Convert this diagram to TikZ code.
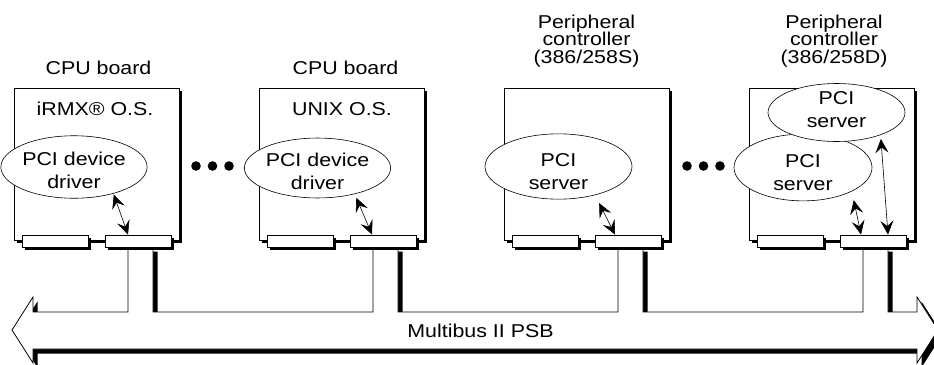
\documentclass[tikz,border=0pt]{standalone}
\usepackage{fontspec}
\setmainfont{Liberation Sans}[FakeStretch=1.15]
\usetikzlibrary{arrows.meta,shapes.geometric,shadows}
\newcommand{\mystrut}[1]{\rule{0pt}{#1pt}}
\tikzset{
  lab/.style={font=\fontsize{18.6}{17.7}\selectfont, align=center, inner sep=0pt},
  board/.style={draw, line width=0.8pt, fill=white, minimum width=165pt, minimum height=152pt, inner sep=0pt,
    drop shadow={shadow xshift=2.5pt, shadow yshift=-2.5pt, opacity=1, fill=black}},
  conn/.style={draw, line width=0.8pt, fill=white, minimum width=66pt, minimum height=12pt, inner sep=0pt,
    drop shadow={shadow xshift=2.5pt, shadow yshift=-2.5pt, opacity=1, fill=black}},
  proc/.style={ellipse, draw, line width=0.6pt, fill=white, inner sep=0pt, align=center,
    font=\fontsize{18.6}{23}\selectfont},
  link/.style={line width=0.6pt, {Stealth[length=14pt,width=13pt,inset=5.5pt]}-{Stealth[length=14pt,width=13pt,inset=5.5pt]}},
  ellipsisdot/.style={circle, fill=black, minimum size=9.6pt, inner sep=0pt},
  busline/.style={line width=0.8pt, fill=white, line join=miter},
}
\begin{document}
\begin{tikzpicture}[x=1pt,y=-1pt]
\useasboundingbox (0,0) rectangle (934,364);

% ---- bus (shadow, then body) ----
\def\buspath{(12,330) -- (33,297) -- (33,312) -- (128,312) -- (128,247) -- (153,247) -- (153,312)
  -- (373,312) -- (373,247) -- (398,247) -- (398,312)
  -- (618,312) -- (618,247) -- (643,247) -- (643,312)
  -- (863,312) -- (863,247) -- (888,247) -- (888,312)
  -- (917,312) -- (917,297) -- (938,330) -- (917,363) -- (917,349) -- (33,349) -- (33,363) -- cycle}
\fill[black, shift={(4.5,4.5)}] \buspath;
\draw[busline] \buspath;
\node[lab, anchor=base] (bus) at (480.5,337) {Multibus II PSB};

% ---- boards ----
\node[board] (b1) at (96.5,164) {};
\node[board] (b2) at (341.5,164) {};
\node[board] (b3) at (586.5,164) {};
\node[board] (b4) at (831.5,164) {};

\node[conn] (cl1) at (55,241) {};
\node[conn] (cr1) at (138,241) {};
\node[conn] (cl2) at (300,241) {};
\node[conn] (cr2) at (383,241) {};
\node[conn] (cl3) at (545,241) {};
\node[conn] (cr3) at (628,241) {};
\node[conn] (cl4) at (790,241) {};
\node[conn] (cr4) at (873,241) {};

% ---- titles ----
\node[lab, anchor=base] (t1) at (98.5,74) {CPU board};
\node[lab, anchor=base] (t2) at (345.5,74) {CPU board};
\node[lab] (t3) at (586.5,41) {Peripheral\\controller\\(386/258S)};
\node[lab] (t4) at (834,41) {Peripheral\\controller\\(386/258D)};

\node[lab, anchor=base] (os1) at (95,115) {iRMX® O.S.};
\node[lab, anchor=base] (os2) at (342,115) {UNIX O.S.};

% ---- processes ----
\node[proc, minimum width=144pt, minimum height=59pt] (e1) at (74,167) {\mystrut{21}PCI device\\driver};
\node[proc, minimum width=145pt, minimum height=58pt] (e2) at (317.5,168) {\mystrut{19.2}PCI device\\driver};
\node[proc, minimum width=147pt, minimum height=57pt] (e3) at (558.5,166.5) {\mystrut{23}PCI\\server};
\node[proc, minimum width=138pt, minimum height=49pt] (e4a) at (803,167.5) {\mystrut{24}PCI\\server};
\node[proc, minimum width=137pt, minimum height=49pt] (e4b) at (836.5,112.5) {PCI\\server\rule[-5pt]{0pt}{0pt}};

% ---- links ----
\draw[link, shorten <=1pt] (e1.-34) -- ([xshift=-10pt]cr1.north);
\draw[link, shorten <=4pt] (e2.-35.5) -- ([xshift=-11pt]cr2.north);
\draw[link, shorten <=9pt] (e3.-38) -- ([xshift=-13pt]cr3.north);
\draw[link, shorten <=9pt] (e4a.-26) -- ([xshift=-12pt]cr4.north);
\draw[link, shorten <=4pt] (e4b.-27.4) -- ([xshift=15pt]cr4.north);

% ---- ellipsis dots ----
\node[ellipsisdot] (d1) at (196,166) {};
\node[ellipsisdot] (d2) at (212.5,166) {};
\node[ellipsisdot] (d3) at (229,166) {};
\node[ellipsisdot] (d4) at (687,166) {};
\node[ellipsisdot] (d5) at (703.5,166) {};
\node[ellipsisdot] (d6) at (720,166) {};
\end{tikzpicture}
\end{document}
